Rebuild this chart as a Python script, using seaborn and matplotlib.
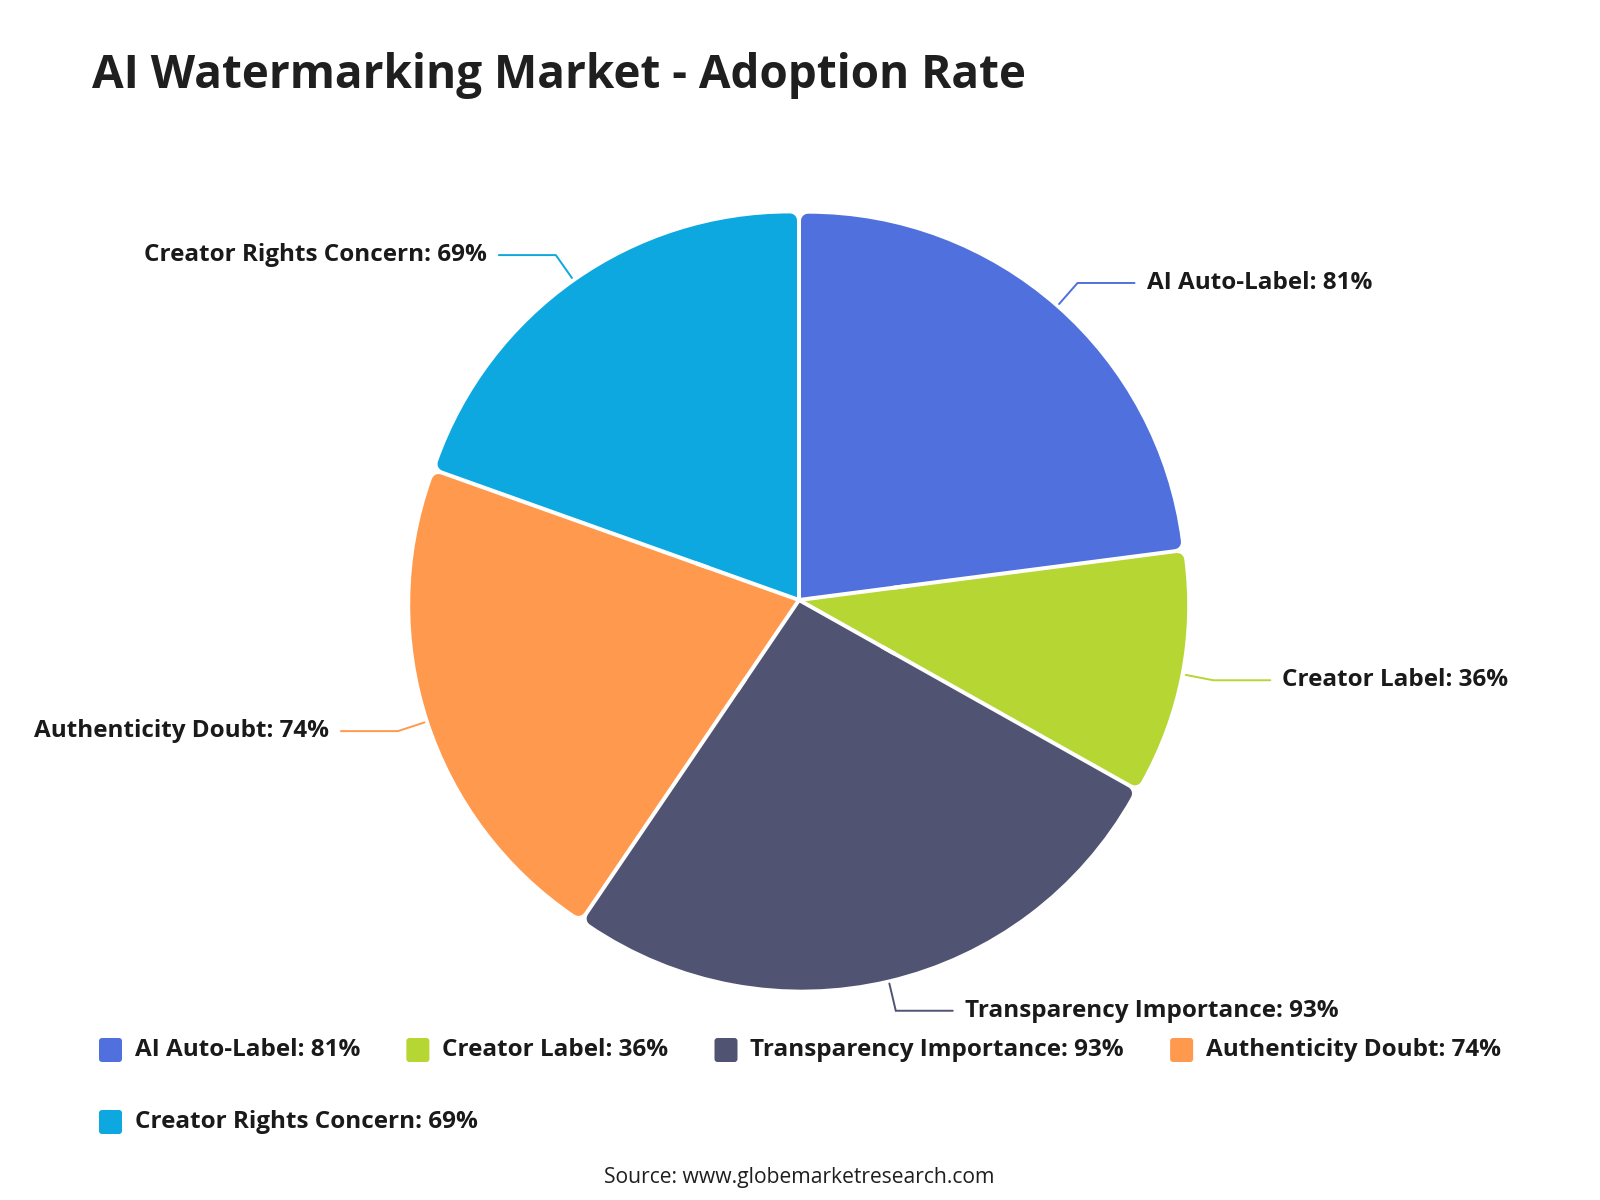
import numpy as np
import matplotlib
matplotlib.use("Agg")
import matplotlib.pyplot as plt
from matplotlib.patches import FancyBboxPatch
import seaborn as sns

# ---------------- data ----------------
categories = ["AI Auto-Label", "Creator Label", "Transparency Importance",
              "Authenticity Doubt", "Creator Rights Concern"]
values = [81, 36, 93, 74, 69]
colors = ["#5070dd", "#b6d634", "#505372", "#ff994d", "#0ca8df"]
title = "AI Watermarking Market - Adoption Rate"
source = "Source: www.globemarketresearch.com"

sns.set_theme(style="white")
plt.rcParams["font.family"] = ["Open Sans", "DejaVu Sans"]
palette = sns.color_palette(colors)

W, H = 1600, 1200
fig = plt.figure(figsize=(16, 12), dpi=100)
ax = fig.add_axes([0, 0, 1, 1])

def Y(y):  # pixel (top-down) -> data
    return H - y

cx, cy, R = 799, Y(600), 388
gap = 4.0      # white gap between slices (px)
rc = 7.0       # corner radius (px)
PX2PT = 72.0 / 100.0
TXT = "#1a1a1a"

# main (rounded) slices
wedges, _ = ax.pie(values, colors=palette, startangle=90, counterclock=False,
                   center=(cx, cy), radius=R,
                   wedgeprops=dict(linewidth=0))
for w in wedges:
    t1, t2 = w.theta1, w.theta2
    th = np.radians(t2 - t1)
    phi = np.radians((t1 + t2) / 2)
    p = rc + gap / 2
    s = p / np.sin(th / 2)
    alpha = th / 2
    newr = R - rc - s * (1 + np.cos(alpha)) / 2
    w.set_center((cx + s * np.cos(phi), cy + s * np.sin(phi)))
    w.set_radius(newr)
    fc = w.get_facecolor()
    w.set_edgecolor(fc)
    w.set_linewidth(2 * rc * PX2PT)
    w.set_joinstyle("round")

# sharp inner apex
inner, _ = ax.pie(values, colors=palette, startangle=90, counterclock=False,
                  center=(cx, cy), radius=95, wedgeprops=dict(linewidth=0))
for w in inner:
    w.set_zorder(3)
    a = np.radians(w.theta1)
    ax.plot([cx, cx + 110 * np.cos(a)], [cy, cy + 110 * np.sin(a)],
            color="white", lw=gap * PX2PT, zorder=4, solid_capstyle="butt")

# labels with leader lines
LABEL_FS = 17.5
for w, cat, val, col in zip(wedges, categories, values, colors):
    mid = np.radians((w.theta1 + w.theta2) / 2)
    x0, y0 = cx + (R + 6) * np.cos(mid), cy + (R + 6) * np.sin(mid)
    x1, y1 = cx + (R + 34) * np.cos(mid), cy + (R + 34) * np.sin(mid)
    sign = 1 if np.cos(mid) >= 0 else -1
    x2 = x1 + sign * 57
    ax.plot([x0, x1, x2], [y0, y1, y1], color=col, lw=1.5 * PX2PT * 1.3,
            zorder=5, solid_joinstyle="miter")
    ax.text(x2 + sign * 12, y1, f"{cat}: {val}%", ha="left" if sign > 0 else "right",
            va="center", fontsize=LABEL_FS, fontweight="bold", color=TXT, zorder=6)

# title & source
ax.text(92, Y(88), title, fontsize=33, fontweight="bold", color="#1f1f1f",
        ha="left", va="baseline")
ax.text(799, Y(1177), source, fontsize=15.2, color="#1f1f1f", ha="center", va="center")

ax.set_xlim(0, W)
ax.set_ylim(0, H)
ax.set_aspect("equal")
ax.axis("off")

# legend (custom, measured)
fig.canvas.draw()
renderer = fig.canvas.get_renderer()
x = 99
row_y = [1050, 1122]
row = 0
icon_w, icon_h = 23, 24
for cat, val, col in zip(categories, values, colors):
    label = f"{cat}: {val}%"
    t = ax.text(0, 0, label, fontsize=LABEL_FS, fontweight="bold", color=TXT,
                ha="left", va="center")
    tw = t.get_window_extent(renderer).width
    if x + icon_w + 13 + tw > 1540:
        row += 1
        x = 99
    yy = Y(row_y[row])
    box = FancyBboxPatch((x + 3, yy - icon_h / 2 + 3), icon_w - 6, icon_h - 6,
                         boxstyle="round,pad=3", facecolor=col, edgecolor="none")
    ax.add_patch(box)
    t.set_position((x + icon_w + 13, yy))
    x = x + icon_w + 13 + tw + 46

fig.savefig("out.png", dpi=100, facecolor="white")
